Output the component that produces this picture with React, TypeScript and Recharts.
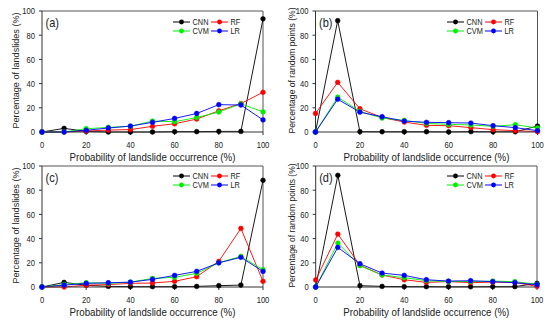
import React from 'react';
import { LineChart, Line, XAxis, YAxis, ReferenceLine, Legend } from 'recharts';

const xValues = [0, 10, 20, 30, 40, 50, 60, 70, 80, 90, 100];
const axisTicks = [0, 20, 40, 60, 80, 100];
const seriesNames = ['CNN', 'RF', 'CVM', 'LR'];
const seriesColors = ['#000000', '#ff0000', '#00ee00', '#0000ff'];

// Panel (a)
const aCNN = [0, 3, 0.5, 0, 0, 0, 0.3, 0.3, 0.5, 0.5, 93.5];
const aRF = [0, 0, 0.8, 1.6, 2, 4.7, 6.8, 10.7, 17.5, 23.5, 32.8];
const aCVM = [0, 0, 2.7, 3.8, 4.7, 9, 8.5, 12, 16.5, 23.3, 16.6];
const aLR = [0, 0, 1.4, 3.3, 4.9, 8, 11.2, 15.3, 22.6, 22.3, 10];

// Panel (b)
const bCNN = [0, 92, 0.3, 0.2, 0.2, 0.2, 0.1, 0.3, 0.2, 0.2, 4.9];
const bRF = [15.3, 41, 19.2, 12, 8.2, 5.5, 5.2, 3.6, 1.9, 1.1, 0.3];
const bCVM = [0, 28.8, 17, 11.5, 9.6, 7.1, 6.3, 5.8, 4.7, 6, 3.3];
const bLR = [0, 27.1, 16.4, 12.6, 9, 8, 7.7, 7.4, 5.2, 3.6, 1.1];

// Panel (c)
const cCNN = [0, 3.8, 1.5, 0.5, 0.3, 0.3, 0.3, 0.5, 1.1, 1.6, 88.2];
const cRF = [0, 0, 1.5, 2, 3, 3.3, 4.7, 8.5, 21.2, 48.4, 4.7];
const cCVM = [0, 2, 3.5, 3, 4, 7.1, 8, 11.3, 20, 25.3, 14.3];
const cLR = [0, 1.5, 3, 3.5, 4, 6.3, 9.6, 12.9, 20, 24.5, 12.9];

// Panel (d)
const dCNN = [0, 92.3, 1.1, 0.5, 0.3, 0.3, 0.2, 0.2, 0.3, 0.3, 3];
const dRF = [5.8, 43.7, 18, 9.9, 6, 3.8, 4.5, 3.6, 4, 3.8, 0.5];
const dCVM = [0, 36.3, 17.6, 9.9, 7.7, 5.2, 4.5, 4.5, 4.9, 4.4, 2.2];
const dLR = [0, 32.7, 19.2, 11.5, 9.6, 6, 4.9, 5.2, 4.4, 3.6, 1.9];

const xTitle = 'Probability of landslide occurrence (%)';
const yTitleLandslides = 'Percentage of landslides (%)';
const yTitleRandom = 'Percentage of random points (%)';

const FONT = '"Liberation Sans", Arial, Helvetica, sans-serif';
const AXIS = '#333333';

function buildRows(cnn: number[], rf: number[], cvm: number[], lr: number[]) {
  return xValues.map((x, i) => ({ x, CNN: cnn[i], RF: rf[i], CVM: cvm[i], LR: lr[i] }));
}

const XTick = (props: any) => {
  const { x, y, payload } = props;
  return (
    <text
      transform={`translate(${x},${y + 7.5}) scale(0.8,1)`}
      textAnchor="middle"
      dominantBaseline="central"
      fontSize={9.5}
      fill="#222"
      fontFamily={FONT}
    >
      {payload.value}
    </text>
  );
};

const YTick = (props: any) => {
  const { x, y, payload } = props;
  return (
    <text
      transform={`translate(${x},${y}) scale(0.8,1)`}
      textAnchor="end"
      dominantBaseline="central"
      fontSize={9.5}
      fill="#222"
      fontFamily={FONT}
    >
      {payload.value}
    </text>
  );
};

type PanelCfg = {
  left: number;
  top: number;
  width: number;
  height: number;
  margin: { top: number; right: number; bottom: number; left: number };
  letter: string;
  yTitle: string;
  yTitleLen: number;
  yTitleSize: number;
  yTitleX: number;
  rows: any[];
  legendLeft: number;
  legendTop: number;
};

const LegendBox = () => {
  const items = [
    { name: seriesNames[0], color: seriesColors[0], col: 0, row: 0 },
    { name: seriesNames[1], color: seriesColors[1], col: 1, row: 0 },
    { name: seriesNames[2], color: seriesColors[2], col: 0, row: 1 },
    { name: seriesNames[3], color: seriesColors[3], col: 1, row: 1 },
  ];
  return (
    <svg width={100} height={22} style={{ display: 'block', overflow: 'visible' }}>
      {items.map((it) => {
        const ox = it.col * 38;
        const oy = 5 + it.row * 9;
        return (
          <g key={it.name}>
            <line x1={ox} x2={ox + 17} y1={oy} y2={oy} stroke={it.color} strokeWidth={1} />
            <circle cx={ox + 8.5} cy={oy} r={2.4} fill={it.color} />
            <text
              transform={`translate(${ox + 19.5},${oy}) scale(0.82,1)`}
              dominantBaseline="central"
              fontSize={9}
              fill="#222"
              fontFamily={FONT}
            >
              {it.name}
            </text>
          </g>
        );
      })}
    </svg>
  );
};

const Panel = ({ cfg }: { cfg: PanelCfg }) => {
  const plotLeft = cfg.margin.left + 30;
  const plotTop = cfg.margin.top;
  const plotBottom = cfg.height - cfg.margin.bottom - 30;
  const plotRight = cfg.width - cfg.margin.right;

  const yLabelContent = () => (
    <g>
      <text
        transform={`translate(${cfg.yTitleX},${(plotTop + plotBottom) / 2 - 1}) rotate(-90)`}
        textAnchor="middle"
        dominantBaseline="central"
        fontSize={cfg.yTitleSize}
        fill="#222"
        fontFamily={FONT}
        textLength={cfg.yTitleLen}
        lengthAdjust="spacingAndGlyphs"
      >
        {cfg.yTitle}
      </text>
      <text
        transform={`translate(${plotLeft + 3.5},${plotTop + 12}) scale(0.92,1)`}
        dominantBaseline="central"
        fontSize={12}
        fill="#222"
        fontFamily={FONT}
      >
        {cfg.letter}
      </text>
    </g>
  );

  const xLabelContent = () => (
    <text
      x={(plotLeft + plotRight) / 2}
      y={plotBottom + 24.5}
      textAnchor="middle"
      dominantBaseline="central"
      fontSize={11}
      fill="#222"
      fontFamily={FONT}
      textLength={166}
      lengthAdjust="spacingAndGlyphs"
    >
      {xTitle}
    </text>
  );

  return (
    <div style={{ position: 'absolute', left: cfg.left, top: cfg.top }}>
      <LineChart width={cfg.width} height={cfg.height} data={cfg.rows} margin={cfg.margin}>
        <XAxis
          dataKey="x"
          type="number"
          domain={[0, 100]}
          ticks={axisTicks}
          interval={0}
          height={30}
          tickSize={3}
          tickMargin={2}
          stroke={AXIS}
          tickLine={{ stroke: AXIS }}
          tick={<XTick />}
          label={{ content: xLabelContent }}
        />
        <YAxis
          type="number"
          domain={[0, 100]}
          ticks={axisTicks}
          interval={0}
          width={30}
          tickSize={3}
          tickMargin={4}
          stroke={AXIS}
          tickLine={{ stroke: AXIS }}
          tick={<YTick />}
          label={{ content: yLabelContent }}
        />
        <ReferenceLine y={100} stroke="#555" strokeWidth={1} />
        <ReferenceLine x={100} stroke="#555" strokeWidth={1} />
        {seriesNames.map((name, i) => (
          <Line
            key={name}
            dataKey={name}
            stroke={seriesColors[i]}
            strokeWidth={0.9}
            dot={{ r: 2.4, fill: seriesColors[i], stroke: seriesColors[i], strokeWidth: 0.5 }}
            isAnimationActive={false}
          />
        ))}
        <Legend
          layout="horizontal"
          verticalAlign="middle"
          align="center"
          content={() => <LegendBox />}
          wrapperStyle={{ left: cfg.legendLeft, top: cfg.legendTop, width: 100, height: 22 }}
        />
      </LineChart>
    </div>
  );
};

const panels: PanelCfg[] = [
  {
    left: 0, top: 0, width: 275, height: 163,
    margin: { top: 11, right: 12, bottom: 1, left: 12 },
    letter: '(a)', yTitle: yTitleLandslides, yTitleLen: 116, yTitleSize: 9.1, yTitleX: 16,
    rows: buildRows(aCNN, aRF, aCVM, aLR), legendLeft: 173, legendTop: 17,
  },
  {
    left: 275, top: 0, width: 275, height: 163,
    margin: { top: 11, right: 12.5, bottom: 1, left: 10.5 },
    letter: '(b)', yTitle: yTitleRandom, yTitleLen: 126, yTitleSize: 8.6, yTitleX: 17,
    rows: buildRows(bCNN, bRF, bCVM, bLR), legendLeft: 172, legendTop: 17,
  },
  {
    left: 0, top: 160, width: 275, height: 163,
    margin: { top: 6, right: 12, bottom: 6, left: 12 },
    letter: '(c)', yTitle: yTitleLandslides, yTitleLen: 116, yTitleSize: 9.1, yTitleX: 16,
    rows: buildRows(cCNN, cRF, cCVM, cLR), legendLeft: 173, legendTop: 10.7,
  },
  {
    left: 275, top: 160, width: 275, height: 163,
    margin: { top: 6, right: 13, bottom: 6, left: 10.7 },
    letter: '(d)', yTitle: yTitleRandom, yTitleLen: 124, yTitleSize: 8.4, yTitleX: 17,
    rows: buildRows(dCNN, dRF, dCVM, dLR), legendLeft: 171.7, legendTop: 10.7,
  },
];

export default function App() {
  return (
    <div
      style={{
        position: 'absolute',
        left: 0,
        top: 0,
        width: 550,
        height: 323,
        background: '#ffffff',
        overflow: 'hidden',
        fontFamily: FONT,
      }}
    >
      {panels.map((p) => (
        <Panel key={p.letter} cfg={p} />
      ))}
    </div>
  );
}
